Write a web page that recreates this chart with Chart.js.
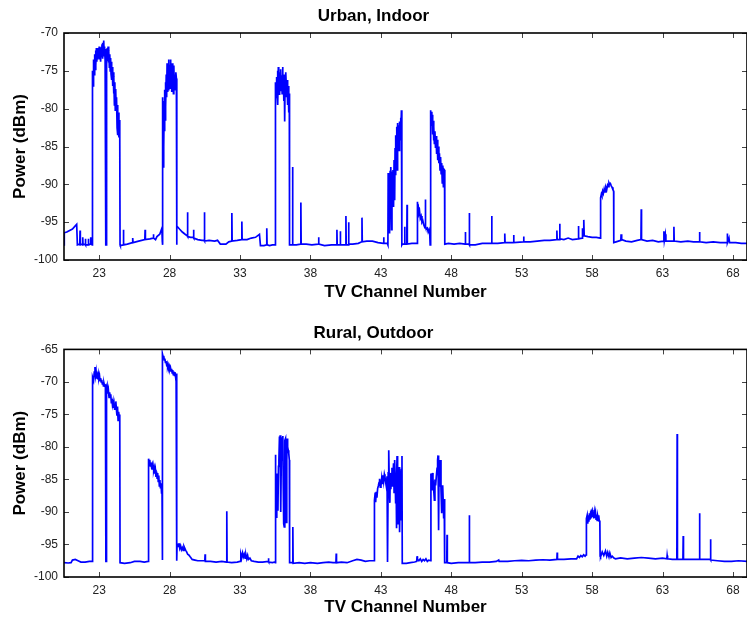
<!DOCTYPE html>
<html>
<head>
<meta charset="utf-8">
<script src="https://cdn.jsdelivr.net/npm/chart.js@4.4.1/dist/chart.umd.min.js"></script>
<style>
  html, body { margin: 0; padding: 0; background: #fff; }
  #top, #bottom { position: absolute; left: 0; }
  #top { top: 0; }
  #bottom { top: 310px; }
</style>
</head>
<body>
<canvas id="top" width="747" height="310"></canvas>
<canvas id="bottom" width="747" height="307"></canvas>
<script>
// channel number, power in dBm
const xTicks = [23, 28, 33, 38, 43, 48, 53, 58, 63, 68];
const urbanYTicks = [-100, -95, -90, -85, -80, -75, -70];
const ruralYTicks = [-100, -95, -90, -85, -80, -75, -70, -65];

const urbanTrace = [
  [20.5,-98.0],[20.52,-96.4],[20.7,-96.3],[20.9,-96.1],[21.1,-95.9],[21.3,-95.5],[21.4,-95.3],[21.45,-98.0],
  [21.62,-97.9],[21.64,-96.1],[21.66,-98.0],[21.81,-97.9],[21.83,-97.0],[21.85,-98.0],[22.0,-97.9],[22.02,-97.2],
  [22.04,-98.0],[22.21,-98.0],[22.23,-97.2],[22.25,-98.0],[22.38,-97.9],[22.4,-97.0],[22.42,-97.9],[22.5,-98.0],
  // channel 23-24
  [22.51,-98.0],[22.52,-77.5],[22.54,-75.0],[22.56,-77.0],[22.58,-74.0],[22.6,-76.5],[22.62,-73.5],[22.65,-75.5],
  [22.68,-72.8],[22.71,-74.8],[22.74,-72.3],[22.77,-74.3],[22.8,-72.0],[22.83,-73.8],[22.86,-72.2],[22.9,-73.5],
  [22.93,-72.0],[22.96,-73.2],[23.0,-71.8],[23.03,-73.5],[23.06,-72.2],[23.1,-73.8],[23.13,-71.9],[23.16,-73.2],
  [23.2,-71.5],[23.23,-73.4],[23.26,-71.3],[23.29,-73.0],[23.32,-71.0],[23.35,-72.6],[23.38,-71.8],[23.42,-73.6],
  [23.45,-72.1],[23.47,-73.3],[23.48,-98.0],[23.5,-98.0],[23.51,-72.5],[23.54,-74.2],[23.57,-72.0],[23.6,-73.7],
  [23.63,-71.8],[23.66,-73.9],[23.69,-72.3],[23.72,-74.5],[23.75,-72.8],[23.78,-75.0],[23.81,-73.3],[23.84,-75.4],
  [23.87,-73.8],[23.9,-76.2],[23.93,-74.5],[23.96,-77.0],[23.99,-75.2],[24.02,-78.0],[24.05,-75.8],[24.08,-79.5],
  [24.11,-76.5],[24.14,-80.2],[24.17,-77.4],[24.2,-79.8],[24.23,-78.5],[24.27,-82.5],[24.3,-79.5],[24.33,-83.5],
  [24.36,-80.5],[24.4,-83.8],[24.43,-81.5],[24.46,-83.5],[24.48,-98.0],
  [24.5,-98.1],[24.7,-98.0],[24.72,-96.0],[24.74,-98.0],[25.0,-97.9],[25.36,-97.7],[25.38,-97.1],[25.4,-97.7],
  [25.8,-97.5],[26.24,-97.3],[26.26,-96.0],[26.28,-97.3],[26.6,-97.2],[26.83,-97.1],[26.85,-96.6],[26.87,-97.1],
  [27.0,-97.3],[27.1,-96.9],[27.3,-96.6],[27.45,-95.8],[27.48,-97.5],
  // channel 28
  [27.49,-98.0],[27.5,-78.5],[27.52,-84.0],[27.54,-79.5],[27.56,-87.8],[27.58,-80.0],[27.6,-85.0],[27.62,-79.0],
  [27.64,-83.0],[27.66,-77.5],[27.68,-81.5],[27.7,-76.5],[27.73,-79.8],[27.76,-75.5],[27.79,-78.5],[27.82,-74.0],
  [27.85,-77.8],[27.88,-74.8],[27.91,-77.5],[27.94,-73.5],[27.97,-77.0],[28.0,-74.2],[28.03,-77.3],[28.06,-73.5],
  [28.09,-76.8],[28.12,-74.5],[28.15,-77.8],[28.18,-74.0],[28.21,-77.2],[28.24,-75.0],[28.27,-78.0],[28.3,-74.3],
  [28.33,-77.5],[28.36,-75.5],[28.4,-77.0],[28.44,-75.2],[28.48,-76.0],[28.5,-98.0],
  [28.52,-95.5],[28.7,-95.9],[28.9,-96.3],[29.1,-96.6],[29.25,-96.8],[29.27,-93.7],[29.29,-96.9],[29.5,-97.0],
  [29.68,-97.0],[29.7,-96.0],[29.72,-97.1],[30.0,-97.3],[30.3,-97.4],[30.45,-97.4],[30.47,-93.7],[30.49,-97.5],
  [30.8,-97.4],[31.2,-97.5],[31.4,-97.4],[31.6,-97.9],[32.0,-97.9],[32.2,-97.6],[32.4,-97.5],[32.42,-93.8],
  [32.44,-97.5],[32.8,-97.4],[33.11,-97.3],[33.13,-94.9],[33.15,-97.3],[33.5,-97.3],[33.8,-97.1],[34.1,-97.0],
  [34.38,-96.6],[34.45,-98.1],[34.7,-98.1],[34.88,-98.0],[34.9,-95.8],[34.92,-98.0],[35.1,-98.1],[35.3,-98.0],
  [35.49,-98.0],
  // channel 36
  [35.5,-98.0],[35.51,-77.5],[35.54,-76.5],[35.57,-78.5],[35.6,-75.8],[35.63,-77.8],[35.66,-75.0],[35.69,-79.5],
  [35.72,-74.5],[35.75,-77.8],[35.78,-75.5],[35.81,-78.2],[35.84,-75.2],[35.87,-77.4],[35.9,-74.8],[35.93,-77.6],
  [35.96,-75.6],[35.99,-78.0],[36.02,-74.5],[36.05,-77.5],[36.08,-76.0],[36.11,-79.0],[36.14,-75.5],[36.17,-81.7],
  [36.2,-76.2],[36.23,-78.5],[36.26,-75.2],[36.3,-77.6],[36.34,-76.2],[36.38,-79.5],[36.42,-77.0],[36.46,-80.5],
  [36.5,-78.0],[36.51,-98.0],
  [36.52,-98.0],[36.71,-98.0],[36.73,-87.7],[36.75,-98.0],[37.0,-98.0],[37.3,-97.9],[37.32,-92.4],[37.34,-97.9],
  [37.7,-97.9],[38.1,-98.0],[38.56,-97.9],[38.58,-97.0],[38.6,-97.9],[39.0,-98.1],[39.5,-98.0],[39.86,-98.0],
  [39.88,-96.0],[39.9,-98.0],[40.1,-98.0],[40.12,-96.2],[40.14,-98.0],[40.5,-98.0],[40.52,-94.2],[40.54,-98.0],
  [40.69,-98.0],[40.71,-95.0],[40.73,-97.9],[41.0,-97.9],[41.4,-97.8],[41.64,-97.6],[41.66,-94.4],[41.68,-97.6],
  [42.0,-97.5],[42.4,-97.5],[42.8,-97.7],[43.18,-97.8],[43.2,-97.0],[43.22,-97.8],[43.46,-97.8],
  // channel 44
  [43.5,-98.0],[43.52,-88.5],[43.55,-96.2],[43.58,-89.0],[43.62,-96.5],[43.66,-88.2],[43.69,-93.5],[43.72,-87.7],
  [43.76,-96.0],[43.79,-88.3],[43.82,-92.5],[43.86,-88.1],[43.9,-93.0],[43.94,-86.8],[43.98,-92.1],[44.01,-85.2],
  [44.04,-88.8],[44.07,-83.5],[44.1,-87.5],[44.13,-82.4],[44.16,-88.1],[44.19,-81.9],[44.22,-85.5],[44.26,-82.2],
  [44.29,-85.5],[44.33,-81.7],[44.36,-84.1],[44.4,-81.2],[44.43,-83.5],[44.46,-80.2],[44.48,-81.5],[44.5,-98.0],
  [44.52,-97.9],[44.67,-97.9],[44.69,-95.6],[44.71,-97.9],[44.84,-97.9],[44.86,-92.7],[44.88,-97.9],[45.2,-97.8],
  [45.55,-97.8],
  [45.57,-97.8],[45.58,-92.3],[45.62,-93.3],[45.66,-93.0],[45.7,-93.9],[45.75,-93.6],[45.8,-94.5],[45.86,-94.2],
  [45.92,-95.0],[45.98,-94.8],[46.04,-95.3],[46.1,-95.6],[46.14,-95.4],[46.16,-92.0],[46.18,-95.6],[46.24,-95.9],
  [46.3,-95.8],[46.36,-96.3],[46.42,-96.0],[46.47,-96.5],[46.5,-98.0],
  // channel 47
  [46.52,-98.0],[46.53,-80.2],[46.56,-81.5],[46.59,-80.4],[46.62,-82.3],[46.65,-80.8],[46.68,-83.4],[46.71,-81.6],
  [46.74,-84.2],[46.77,-82.4],[46.8,-84.6],[46.84,-83.0],[46.88,-85.2],[46.92,-83.6],[46.96,-86.0],[47.0,-84.1],
  [47.04,-86.8],[47.08,-85.0],[47.12,-87.2],[47.16,-85.9],[47.2,-88.1],[47.24,-86.4],[47.28,-88.6],[47.32,-87.2],
  [47.36,-89.8],[47.4,-87.5],[47.44,-90.3],[47.48,-88.0],[47.52,-88.1],[47.53,-98.0],
  [47.55,-97.9],[47.8,-97.8],[48.2,-97.9],[48.6,-97.8],[48.98,-97.9],[49.0,-96.3],[49.02,-97.9],[49.26,-97.9],
  [49.28,-93.8],[49.3,-98.0],[49.7,-98.0],[50.2,-97.8],[50.85,-97.8],[50.87,-94.2],[50.89,-97.8],[51.3,-97.8],
  [51.78,-97.7],[51.8,-96.5],[51.82,-97.7],[52.41,-97.7],[52.43,-96.7],[52.45,-97.7],[53.12,-97.6],[53.14,-96.9],
  [53.16,-97.6],[53.6,-97.6],[54.1,-97.5],[54.6,-97.4],[55.0,-97.4],[55.48,-97.3],[55.5,-96.1],[55.52,-97.3],
  [55.68,-97.3],[55.7,-95.2],[55.72,-97.2],[56.0,-97.3],[56.3,-97.1],[56.6,-97.3],[57.01,-97.2],[57.03,-95.5],
  [57.05,-97.2],[57.3,-97.1],[57.32,-95.8],[57.36,-96.8],[57.41,-94.7],[57.44,-96.8],[57.7,-96.9],[58.0,-97.0],
  [58.3,-97.0],[58.58,-97.1],
  // channel 59
  [58.6,-97.1],[58.61,-91.8],[58.66,-91.3],[58.7,-91.5],[58.75,-90.9],[58.8,-91.2],[58.86,-90.6],[58.92,-91.0],
  [58.98,-90.4],[59.04,-90.7],[59.1,-90.1],[59.16,-90.3],[59.2,-89.8],[59.25,-90.0],[59.3,-89.9],[59.36,-90.2],
  [59.42,-90.4],[59.48,-90.7],[59.53,-90.9],[59.54,-97.7],
  [59.7,-97.6],[60.04,-97.4],[60.06,-96.6],[60.1,-97.3],[60.4,-97.5],[60.8,-97.6],[61.2,-97.4],[61.47,-97.3],
  [61.49,-93.3],[61.51,-97.3],[61.9,-97.5],[62.3,-97.4],[62.7,-97.6],[63.08,-97.5],[63.1,-96.2],[63.13,-97.4],
  [63.2,-96.6],[63.24,-97.5],[63.79,-97.5],[63.81,-95.6],[63.83,-97.5],[64.3,-97.6],[64.8,-97.5],[65.2,-97.6],
  [65.61,-97.6],[65.63,-96.3],[65.65,-97.6],[66.1,-97.7],[66.6,-97.6],[67.1,-97.7],[67.58,-97.7],[67.6,-96.5],
  [67.62,-97.7],[67.72,-97.1],[67.76,-97.7],[68.2,-97.7],[68.6,-97.8],[69.0,-97.8]
];

const ruralTrace = [
  [20.5,-97.8],[20.8,-97.85],[21.0,-97.8],[21.1,-97.4],[21.3,-97.3],[21.5,-97.5],[21.7,-97.7],[22.0,-97.7],
  [22.3,-97.6],[22.5,-97.6],
  // channel 23-24
  [22.51,-70.8],[22.55,-69.3],[22.6,-69.8],[22.65,-68.5],[22.7,-67.7],[22.74,-69.0],[22.78,-68.4],[22.82,-69.5],
  [22.86,-68.6],[22.9,-69.6],[22.94,-68.8],[22.98,-69.4],[23.02,-69.0],[23.06,-69.8],[23.1,-69.4],[23.14,-70.0],
  [23.18,-69.7],[23.22,-70.3],[23.26,-70.0],[23.3,-70.6],[23.34,-70.2],[23.38,-70.6],[23.44,-70.5],[23.47,-70.4],
  [23.48,-97.6],[23.5,-97.6],[23.52,-71.0],[23.56,-70.6],[23.6,-71.8],[23.65,-71.2],[23.7,-72.4],[23.74,-71.6],
  [23.78,-72.3],[23.82,-71.9],[23.86,-73.2],[23.9,-72.6],[23.94,-73.5],[23.98,-73.0],[24.02,-74.0],[24.06,-73.4],
  [24.1,-74.3],[24.14,-73.6],[24.18,-73.0],[24.22,-74.2],[24.26,-75.2],[24.3,-73.8],[24.34,-75.9],[24.38,-74.6],
  [24.42,-75.3],[24.46,-75.0],[24.48,-97.8],
  [24.5,-97.8],[24.8,-97.9],[25.2,-97.8],[25.5,-97.6],[25.9,-97.6],[26.2,-97.7],[26.48,-97.6],
  // channel 27
  [26.5,-97.6],[26.51,-81.8],[26.55,-82.6],[26.59,-82.0],[26.63,-82.9],[26.67,-82.4],[26.71,-83.0],[26.75,-82.7],
  [26.79,-83.5],[26.83,-82.9],[26.87,-83.6],[26.91,-83.2],[26.95,-84.1],[26.99,-83.5],[27.03,-84.6],[27.07,-83.8],
  [27.11,-84.8],[27.15,-84.0],[27.19,-85.3],[27.23,-84.4],[27.27,-86.0],[27.31,-85.1],[27.35,-86.4],[27.39,-85.6],
  [27.43,-87.2],[27.46,-86.0],[27.47,-97.3],
  // channel 28
  [27.49,-97.4],[27.51,-65.7],[27.54,-66.2],[27.58,-66.0],[27.62,-66.6],[27.66,-66.4],[27.7,-67.0],[27.74,-66.8],
  [27.78,-67.3],[27.82,-67.1],[27.86,-67.7],[27.9,-67.4],[27.94,-67.9],[27.98,-67.6],[28.02,-68.1],[28.06,-67.8],
  [28.1,-68.3],[28.14,-68.0],[28.18,-68.6],[28.22,-68.2],[28.26,-68.9],[28.3,-68.4],[28.34,-69.0],[28.38,-68.5],
  [28.42,-69.2],[28.46,-68.7],[28.5,-69.3],[28.51,-97.5],
  [28.53,-94.9],[28.6,-95.3],[28.66,-94.8],[28.72,-95.6],[28.78,-95.2],[28.84,-95.8],[28.9,-95.5],[28.96,-95.9],
  [29.02,-95.3],[29.08,-95.6],[29.14,-95.9],[29.2,-96.1],[29.28,-96.5],[29.36,-96.6],[29.46,-96.9],[29.6,-97.3],
  [29.8,-97.4],[30.0,-97.5],[30.2,-97.5],[30.5,-97.5],[30.52,-96.5],[30.54,-97.6],[30.9,-97.6],[31.3,-97.7],
  [31.7,-97.6],[32.04,-97.7],[32.06,-89.9],[32.08,-97.7],[32.4,-97.8],[32.8,-97.7],[33.0,-97.6],[33.06,-96.5],
  [33.12,-97.0],[33.18,-96.3],[33.24,-96.9],[33.3,-96.5],[33.36,-97.1],[33.42,-96.6],[33.48,-97.2],[33.54,-96.7],
  [33.6,-97.3],[33.7,-97.1],[33.8,-97.5],[34.0,-97.6],[34.3,-97.7],[34.6,-97.7],[35.0,-97.6],[35.02,-97.1],
  [35.04,-97.7],[35.3,-97.8],[35.48,-97.7],
  // channel 36
  [35.5,-97.8],[35.51,-81.2],[35.54,-87.0],[35.57,-90.8],[35.6,-85.0],[35.62,-84.1],[35.66,-88.5],[35.69,-89.8],
  [35.73,-83.0],[35.76,-82.0],[35.8,-78.4],[35.83,-80.5],[35.85,-78.2],[35.88,-85.5],[35.9,-90.0],[35.93,-82.0],
  [35.97,-78.5],[36.01,-80.0],[36.04,-78.3],[36.07,-86.0],[36.1,-91.8],[36.14,-92.3],[36.17,-84.0],[36.19,-79.0],
  [36.23,-78.7],[36.26,-85.0],[36.29,-91.6],[36.32,-82.0],[36.35,-78.7],[36.38,-80.0],[36.42,-80.5],[36.46,-81.0],
  [36.5,-82.0],[36.51,-97.8],
  [36.53,-97.8],[36.73,-97.8],[36.75,-92.3],[36.77,-97.9],[37.2,-97.8],[37.6,-97.9],[38.0,-97.8],[38.5,-97.9],
  [38.9,-97.8],[39.3,-97.7],[39.6,-97.8],[39.81,-97.8],[39.83,-96.4],[39.85,-97.8],[40.2,-97.7],[40.6,-97.8],
  [41.0,-97.5],[41.3,-97.3],[41.6,-97.4],[41.9,-97.6],[42.2,-97.5],[42.53,-97.5],
  // channel 43-44
  [42.54,-97.5],[42.55,-88.2],[42.6,-87.0],[42.63,-88.5],[42.67,-86.9],[42.72,-87.8],[42.77,-86.4],[42.82,-86.0],
  [42.87,-85.5],[42.91,-84.9],[42.96,-86.2],[43.01,-85.9],[43.06,-84.8],[43.1,-85.6],[43.15,-84.35],[43.2,-85.3],
  [43.25,-84.2],[43.29,-84.6],[43.34,-85.4],[43.39,-86.1],[43.44,-84.5],[43.46,-86.0],[43.47,-97.7],[43.49,-97.7],
  [43.52,-84.0],[43.56,-80.5],[43.6,-86.0],[43.64,-88.6],[43.67,-84.0],[43.71,-86.5],[43.74,-84.1],[43.79,-83.2],
  [43.83,-86.0],[43.86,-84.9],[43.9,-82.5],[43.94,-87.0],[43.98,-82.0],[44.02,-85.5],[44.05,-88.7],[44.08,-84.0],
  [44.1,-92.5],[44.13,-85.0],[44.15,-81.4],[44.19,-86.0],[44.22,-91.8],[44.26,-85.0],[44.29,-83.1],[44.33,-93.1],
  [44.36,-88.0],[44.38,-91.3],[44.42,-85.0],[44.46,-83.5],[44.5,-81.4],[44.52,-97.9],
  [44.54,-97.9],[44.8,-97.9],[45.1,-97.8],[45.4,-97.7],[45.55,-97.6],[45.57,-96.8],[45.6,-97.3],[45.7,-97.5],
  [45.8,-97.2],[45.9,-97.6],[46.0,-97.3],[46.1,-97.5],[46.2,-97.2],[46.3,-97.6],[46.4,-97.4],[46.54,-97.5],
  // channel 47
  [46.55,-97.5],[46.56,-84.1],[46.6,-85.5],[46.63,-86.7],[46.66,-84.0],[46.7,-84.9],[46.75,-86.5],[46.8,-88.2],
  [46.84,-85.0],[46.89,-85.9],[46.94,-84.5],[46.99,-83.3],[47.03,-82.0],[47.06,-81.3],[47.1,-92.8],[47.13,-84.0],
  [47.15,-86.1],[47.19,-83.5],[47.22,-82.0],[47.27,-86.5],[47.32,-90.2],[47.36,-87.0],[47.39,-85.9],[47.43,-88.5],
  [47.46,-91.0],[47.5,-88.0],[47.52,-97.8],
  [47.54,-97.8],[47.68,-97.8],[47.7,-93.5],[47.72,-97.8],[48.0,-97.9],[48.5,-97.8],[49.0,-97.8],[49.26,-97.8],
  [49.28,-90.5],[49.3,-97.8],[49.7,-97.8],[50.2,-97.7],[50.7,-97.7],[51.2,-97.6],[51.37,-97.4],[51.4,-97.6],
  [52.0,-97.6],[52.5,-97.5],[53.0,-97.45],[53.5,-97.5],[54.0,-97.4],[54.5,-97.35],[55.0,-97.4],[55.5,-97.3],
  [55.52,-96.25],[55.54,-97.3],[56.0,-97.3],[56.5,-97.2],[56.9,-97.2],[57.0,-96.8],[57.1,-97.0],[57.2,-96.7],
  [57.3,-96.9],[57.4,-96.6],[57.5,-96.8],[57.57,-96.6],
  // channel 58
  [57.58,-96.6],[57.59,-92.3],[57.62,-91.0],[57.65,-90.5],[57.69,-91.8],[57.73,-90.6],[57.77,-91.5],[57.81,-90.2],
  [57.85,-91.2],[57.88,-90.5],[57.92,-91.0],[57.96,-89.9],[58.0,-89.7],[58.04,-90.8],[58.08,-90.0],[58.12,-91.0],
  [58.16,-90.1],[58.2,-90.9],[58.24,-90.2],[58.28,-91.1],[58.32,-90.4],[58.36,-91.3],[58.4,-90.6],[58.44,-91.0],
  [58.47,-90.5],[58.51,-91.4],[58.55,-91.3],[58.57,-96.8],
  [58.6,-96.9],[58.72,-96.15],[58.83,-96.7],[58.95,-96.0],[59.04,-96.8],[59.11,-96.2],[59.2,-96.9],[59.26,-96.3],
  [59.35,-97.0],[59.43,-96.8],[59.55,-97.1],[59.66,-97.2],[60.02,-97.05],[60.5,-97.2],[61.0,-97.1],[61.5,-97.0],
  [62.0,-97.1],[62.5,-97.2],[63.0,-97.1],[63.31,-97.2],[63.33,-96.7],[63.36,-97.2],[63.7,-97.3],[64.02,-97.3],
  [64.04,-78.0],[64.06,-97.3],[64.45,-97.3],[64.47,-93.7],[64.49,-97.3],[65.0,-97.3],[65.61,-97.3],[65.63,-90.2],
  [65.65,-97.3],[66.1,-97.3],[66.39,-97.3],[66.41,-94.2],[66.43,-97.4],[66.9,-97.5],[67.4,-97.6],[67.9,-97.6],
  [68.4,-97.5],[69.0,-97.6]
];

const FONT = "'Liberation Sans', Arial, sans-serif";

// MATLAB-like box: frame plus inward tick marks on all four sides
const boxPlugin = {
  id: "box",
  afterDraw(chart) {
    const { ctx, chartArea: a, scales } = chart;
    ctx.save();
    ctx.strokeStyle = "#444";
    ctx.lineWidth = 1;
    ctx.beginPath();
    scales.x.ticks.forEach((t) => {
      const px = Math.round(scales.x.getPixelForValue(t.value)) + 0.5;
      ctx.moveTo(px, a.bottom); ctx.lineTo(px, a.bottom - 5);
      ctx.moveTo(px, a.top); ctx.lineTo(px, a.top + 5);
    });
    scales.y.ticks.forEach((t) => {
      const py = Math.round(scales.y.getPixelForValue(t.value)) + 0.5;
      ctx.moveTo(a.left, py); ctx.lineTo(a.left + 5, py);
      ctx.moveTo(a.right, py); ctx.lineTo(a.right - 5, py);
    });
    ctx.stroke();
    ctx.strokeStyle = "#000";
    ctx.lineWidth = 1.6;
    ctx.strokeRect(a.left, a.top, a.right - a.left, a.bottom - a.top);
    ctx.restore();
  }
};

function makeChart(id, title, trace, yTicks, titlePad, xHeight, xTitlePad) {
  return new Chart(document.getElementById(id), {
    type: "line",
    data: {
      datasets: [{
        data: trace.map(([x, y]) => ({ x, y })),
        borderColor: "#0000ff",
        borderWidth: 1.7,
        pointRadius: 0,
        tension: 0,
        fill: false
      }]
    },
    options: {
      responsive: false,
      animation: false,
      devicePixelRatio: 1,
      layout: { padding: 0 },
      plugins: {
        legend: { display: false },
        tooltip: { enabled: false },
        title: {
          display: true,
          text: title,
          color: "#000",
          font: { family: FONT, size: 17, weight: "bold" },
          padding: titlePad
        }
      },
      scales: {
        x: {
          type: "linear",
          min: 20.5,
          max: 69,
          grid: { display: false, drawTicks: false },
          border: { display: false },
          afterBuildTicks: (s) => { s.ticks = xTicks.map((v) => ({ value: v })); },
          afterFit: (s) => { s.height = xHeight; },
          ticks: {
            color: "#222",
            font: { family: FONT, size: 12 },
            padding: 6,
            maxRotation: 0,
            autoSkip: false
          },
          title: {
            display: true,
            text: "TV Channel Number",
            color: "#000",
            font: { family: FONT, size: 17, weight: "bold" },
            padding: { top: 0, bottom: xTitlePad }
          }
        },
        y: {
          min: yTicks[0],
          max: yTicks[yTicks.length - 1],
          grid: { display: false, drawTicks: false },
          border: { display: false },
          afterBuildTicks: (s) => { s.ticks = yTicks.map((v) => ({ value: v })); },
          afterFit: (s) => { s.width = 64; },
          ticks: {
            color: "#222",
            font: { family: FONT, size: 12 },
            padding: 6
          },
          title: {
            display: true,
            text: "Power (dBm)",
            color: "#000",
            font: { family: FONT, size: 17, weight: "bold" },
            padding: { top: 10, bottom: 0 }
          }
        }
      }
    },
    plugins: [boxPlugin]
  });
}

makeChart("top", "Urban, Indoor", urbanTrace, urbanYTicks, { top: 6, bottom: 6.6 }, 50, 7.5);
makeChart("bottom", "Rural, Outdoor", ruralTrace, ruralYTicks, { top: 13, bottom: 6 }, 40, -1);
</script>
</body>
</html>
